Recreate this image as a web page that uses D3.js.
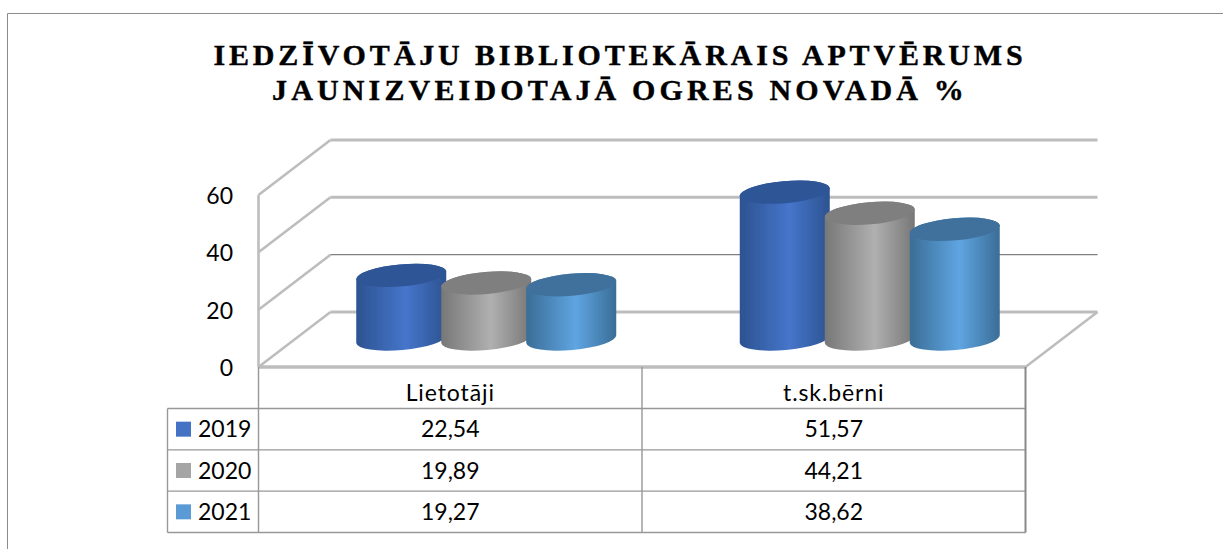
<!DOCTYPE html>
<html>
<head>
<meta charset="utf-8">
<script src="https://cdn.jsdelivr.net/npm/d3@7"></script>
<style>
  html, body { margin: 0; padding: 0; background: #fff; }
  svg { display: block; }
  text { fill: #000; }
  .lab { font-family: Lato, sans-serif; font-size: 23px; }
  .cat { letter-spacing: 0.9px; }
  .title { font-family: "Liberation Serif", serif; font-weight: bold; font-size: 30px; letter-spacing: 3.85px; stroke: #000; stroke-width: 0.4px; }
  .title2 { letter-spacing: 4.15px; }
</style>
</head>
<body>
<div id="plot"></div>
<script>
const titleLines = ["IEDZĪVOTĀJU BIBLIOTEKĀRAIS APTVĒRUMS", "JAUNIZVEIDOTAJĀ OGRES NOVADĀ %"];
const categories = ["Lietotāji", "t.sk.bērni"];
const years = ["2019", "2020", "2021"];
const v2019 = [22.54, 51.57];
const v2020 = [19.89, 44.21];
const v2021 = [19.27, 38.62];
const yTicks = [0, 20, 40, 60];

const series = [v2019, v2020, v2021];
const colors = {
  2019: {edge: "#2c5390", mid: "#4675cb", top: "#2f5496", key: "#4472c4"},
  2020: {edge: "#777777", mid: "#b0b0b0", top: "#7f7f7f", key: "#a5a5a5"},
  2021: {edge: "#3a6d96", mid: "#5fa5e2", top: "#41719c", key: "#5b9bd5"}
};

const w = 1223, h = 549;
const depthX = 72, depthY = 55;

const svg = d3.select("#plot").append("svg").attr("width", w).attr("height", h);
const defs = svg.append("defs");
defs.append("filter").attr("id", "soft")
  .attr("x", "-5%").attr("y", "-5%").attr("width", "110%").attr("height", "110%")
  .append("feGaussianBlur").attr("stdDeviation", 0.5);

years.forEach(y => {
  const g = defs.append("linearGradient").attr("id", "grad" + y);
  g.append("stop").attr("offset", "0%").attr("stop-color", colors[y].edge);
  g.append("stop").attr("offset", "55%").attr("stop-color", colors[y].mid);
  g.append("stop").attr("offset", "100%").attr("stop-color", colors[y].edge);
});

// outer frame, runs off the right side of the picture
svg.append("path").attr("d", "M7.5,549V13.5H1223")
  .attr("fill", "none").attr("stroke", "#8c8c8c").attr("stroke-width", 1);

// title
svg.selectAll(".title").data(titleLines).enter().append("text")
  .attr("class", (d, i) => i ? "title title2" : "title")
  .attr("text-anchor", "middle")
  .attr("x", 620)
  .attr("y", (d, i) => 65 + i * 35)
  .text(d => d);

// front plane scales
const xFront = d3.scaleBand().domain(categories).range([258.5, 1025.5]);
const yFront = d3.scaleLinear().domain([0, 60]).range([367, 195]);
// cylinders stand halfway back in the floor
const yMid = d3.scaleLinear().domain([0, 60]).range([339, 167]);
const xSeries = d3.scaleBand().domain(years).range([0, 255]);

// walls and gridlines
const wallGrey = "#bdbdbd";
const walls = svg.append("g").attr("fill", "none").attr("filter", "url(#soft)");
yTicks.forEach(t => {
  const x0 = xFront.range()[0], x1 = xFront.range()[1] + depthX, y0 = yFront(t), y1 = y0 - depthY;
  walls.append("line").attr("x1", x0).attr("y1", y0).attr("x2", x0 + depthX).attr("y2", y1)
    .attr("stroke", wallGrey).attr("stroke-width", 2.6);
  // the 20 line reads thin and dark on the back wall
  walls.append("line").attr("x1", x0 + depthX).attr("y1", y1).attr("x2", x1).attr("y2", y1)
    .attr("stroke", t === 20 ? "#7f7f7f" : wallGrey)
    .attr("stroke-width", t === 20 ? 1.2 : 3);
});
walls.append("line")
  .attr("x1", xFront.range()[0]).attr("x2", xFront.range()[0])
  .attr("y1", yFront(0)).attr("y2", yFront(60))
  .attr("stroke", wallGrey).attr("stroke-width", 2.6);
// floor front
walls.append("line")
  .attr("x1", xFront.range()[0]).attr("x2", xFront.range()[1])
  .attr("y1", yFront(0)).attr("y2", yFront(0))
  .attr("stroke", wallGrey).attr("stroke-width", 3.4);
walls.append("line")
  .attr("x1", xFront.range()[1]).attr("x2", xFront.range()[1] + depthX)
  .attr("y1", yFront(0)).attr("y2", yFront(0) - depthY)
  .attr("stroke", wallGrey).attr("stroke-width", 2.6);

// y axis labels
svg.selectAll(".ytick").data(yTicks).enter().append("text")
  .attr("class", "lab ytick")
  .attr("x", 233).attr("text-anchor", "end")
  .attr("y", d => yFront(d) + 9)
  .text(d => d);

// cylinders
const rx = 45, ry = 11, tilt = 4;
function cylinder(cx, yTop, yBase) {
  return "M" + (cx - rx) + "," + (yTop + tilt)
    + "L" + (cx - rx) + "," + (yBase + tilt)
    + "A" + rx + "," + ry + ",-5,0,0," + (cx + rx) + "," + (yBase - tilt)
    + "L" + (cx + rx) + "," + (yTop - tilt)
    + "A" + rx + "," + ry + ",-5,0,0," + (cx - rx) + "," + (yTop + tilt) + "Z";
}
function topCap(cx, yTop) {
  return "M" + (cx - rx) + "," + (yTop + tilt)
    + "A" + rx + "," + ry + ",-5,1,1," + (cx + rx) + "," + (yTop - tilt)
    + "A" + rx + "," + ry + ",-5,1,1," + (cx - rx) + "," + (yTop + tilt) + "Z";
}
const bars = svg.append("g").attr("filter", "url(#soft)");
categories.forEach((c, ci) => {
  const x0 = xFront(c) + xFront.bandwidth() / 2 + depthX / 2 - 127.5;
  years.forEach((y, si) => {
    const cx = x0 + xSeries(y) + xSeries.bandwidth() / 2;
    const yTop = yMid(series[si][ci]) + 1;
    bars.append("path").attr("d", cylinder(cx, yTop, yMid(0))).attr("fill", "url(#grad" + y + ")");
    bars.append("path").attr("d", topCap(cx, yTop)).attr("fill", colors[y].top);
  });
});

// data table
const tableLeft = 167.5, tableTop = 408.5, tableBottom = 532.5;
const rowY = d3.scaleBand().domain(years).range([tableTop, tableBottom]);
const grid = svg.append("g").attr("stroke", "#989898").attr("stroke-width", 1.4).attr("fill", "none");
years.concat("end").forEach((y, i) => {
  const yy = tableTop + i * rowY.bandwidth();
  grid.append("line").attr("x1", tableLeft).attr("x2", xFront.range()[1]).attr("y1", yy).attr("y2", yy);
});
categories.concat("end").forEach((c, i) => {
  const x = xFront.range()[0] + i * xFront.bandwidth();
  grid.append("line").attr("x1", x).attr("x2", x).attr("y1", yFront(0)).attr("y2", tableBottom)
    .attr("stroke", i === 2 ? "#888888" : "#989898")
    .attr("stroke-width", i === 2 ? 2 : 1.4);
});
grid.append("line").attr("x1", tableLeft).attr("x2", tableLeft).attr("y1", tableTop).attr("y2", tableBottom);

svg.selectAll(".cat").data(categories).enter().append("text")
  .attr("class", "lab cat").attr("text-anchor", "middle")
  .attr("x", d => xFront(d) + xFront.bandwidth() / 2)
  .attr("y", 401)
  .text(d => d);

years.forEach((y, si) => {
  const mid = rowY(y) + rowY.bandwidth() / 2;
  svg.append("rect").attr("x", 176).attr("y", mid - 7.5).attr("width", 15).attr("height", 15).attr("fill", colors[y].key);
  svg.append("text").attr("class", "lab").attr("x", 198).attr("y", mid + 8).text(y);
  categories.forEach((c, ci) => {
    svg.append("text").attr("class", "lab").attr("text-anchor", "middle")
      .attr("x", xFront(c) + xFront.bandwidth() / 2)
      .attr("y", mid + 8)
      .text(series[si][ci].toFixed(2).replace(".", ","));
  });
});
</script>
</body>
</html>
